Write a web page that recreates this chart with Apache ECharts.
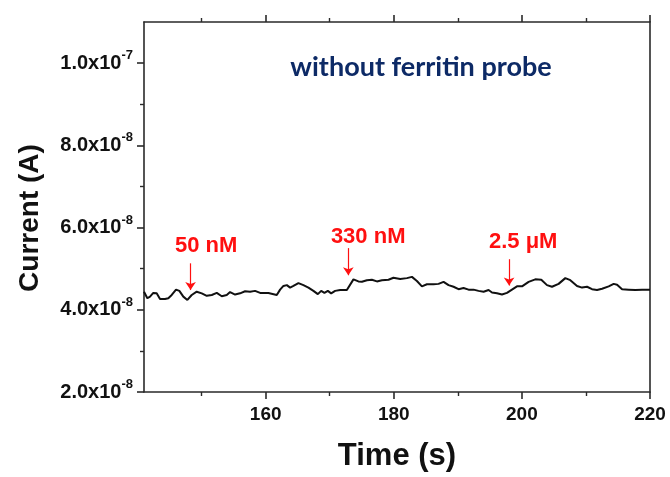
<!DOCTYPE html>
<html>
<head>
<meta charset="utf-8">
<script src="https://cdn.jsdelivr.net/npm/echarts@6/dist/echarts.min.js"></script>
<style>html,body{margin:0;padding:0;background:#fff;}#c{width:670px;height:477px;}</style>
</head>
<body>
<div id="c"></div>
<script>
// Time (s)
const time = [
  141.0,141.52,141.94,142.45,142.98,143.5,144.28,144.8,145.33,146.0,
  146.52,147.14,147.77,148.45,149.23,150.02,150.8,151.58,152.36,153.14,
  153.92,154.44,155.22,156.0,156.78,157.56,158.34,159.13,160.42,
  161.73,162.25,162.77,163.3,163.81,164.33,165.11,165.89,166.67,167.45,
  168.14,168.66,169.17,169.7,170.22,170.84,171.63,172.67,173.7,174.48,
  175.02,175.8,176.58,177.36,178.14,179.17,179.95,
  181.0,182.05,182.83,183.61,184.39,185.17,186.2,186.98,187.77,188.55,
  189.33,190.11,190.89,191.67,192.45,193.23,194.02,194.8,195.33,196.11,
  196.89,197.67,198.45,199.23,
  200.02,201.05,202.09,203.03,203.92,204.7,205.73,206.78,207.56,208.61,
  209.39,210.17,210.95,211.73,212.52,213.55,214.33,214.86,215.64,216.67,
  217.72,218.77,220.0
];
// Current in units of 1e-8 A
const currentE8 = [
  4.44,4.28,4.32,4.41,4.40,4.26,4.26,4.28,4.36,4.49,
  4.46,4.32,4.24,4.36,4.44,4.40,4.34,4.36,4.41,4.33,
  4.36,4.43,4.37,4.40,4.45,4.44,4.46,4.41,4.41,
  4.36,4.49,4.58,4.60,4.54,4.58,4.65,4.60,4.54,4.46,
  4.38,4.46,4.41,4.46,4.40,4.46,4.48,4.48,4.74,4.69,
  4.68,4.72,4.73,4.69,4.72,4.73,4.78,
  4.75,4.77,4.80,4.70,4.57,4.62,4.62,4.63,4.68,4.60,
  4.56,4.50,4.53,4.49,4.49,4.46,4.44,4.48,4.42,4.40,
  4.37,4.41,4.49,4.57,
  4.57,4.68,4.74,4.73,4.60,4.56,4.63,4.77,4.72,4.58,
  4.54,4.56,4.50,4.48,4.51,4.57,4.63,4.61,4.50,4.49,
  4.48,4.49,4.49
];
const xMajorTicks = [160, 180, 200, 220];
const xMinorTicks = [150, 170, 190, 210];
const yMajorTicks = [2e-8, 4e-8, 6e-8, 8e-8, 1e-7];
const yMinorTicks = [3e-8, 5e-8, 7e-8, 9e-8];
// Annotations: label, arrow time, arrow top (1e-8), arrow tip (1e-8), text time, text y (1e-8)
const annLabels = ['50 nM', '330 nM', '2.5 μM'];
const annTime = [148.27, 172.9, 198.0];
const annTopE8 = [5.13, 5.50, 5.23];
const annTipE8 = [4.48, 4.84, 4.59];
const annTextTime = [150.69, 176.0, 200.2];
const annTextE8 = [5.56, 5.77, 5.64];

const FONT = "'Liberation Sans', Arial, sans-serif";
const AX = '#2a2a2a';
const data = time.map((t, i) => [t, currentE8[i] * 1e-8]);

function yFmt(v) {
  const e = Math.floor(Math.log10(v) + 1e-9);
  const m = (v / Math.pow(10, e)).toFixed(1);
  return '{m|' + m + 'x10}{e|' + e + '}';
}

const baseX = {type: 'value', min: 141, max: 220, splitLine: {show: false}, gridIndex: 0};
const baseY = {type: 'value', min: 2e-8, max: 1.1e-7, splitLine: {show: false}, gridIndex: 0};

const option = {
  backgroundColor: '#fff',
  animation: false,
  title: {
    text: 'without ferritin probe',
    left: 416, top: 62, textAlign: 'center', textVerticalAlign: 'middle',
    textStyle: {color: '#0d2a66', fontFamily: 'Lato, sans-serif', fontWeight: 'bold', fontSize: 27}
  },
  grid: {left: 144, right: 20, top: 22, bottom: 80, containLabel: false},
  xAxis: [
    Object.assign({}, baseX, {
      position: 'bottom',
      axisLine: {show: true, lineStyle: {color: AX, width: 1.6}},
      axisTick: {show: true, customValues: xMajorTicks, length: 7, lineStyle: {color: AX, width: 1.6}},
      axisLabel: {show: true, customValues: xMajorTicks, margin: 13, color: '#111',
        fontFamily: FONT, fontWeight: 'bold', fontSize: 19},
      name: 'Time (s)', nameLocation: 'middle', nameGap: 49,
      nameTextStyle: {fontFamily: FONT, fontWeight: 'bold', fontSize: 31, color: '#111'}
    }),
    Object.assign({}, baseX, {
      position: 'bottom',
      axisLine: {show: false},
      axisTick: {show: true, customValues: xMinorTicks, length: 4, lineStyle: {color: AX, width: 1.4}},
      axisLabel: {show: false}
    }),
    Object.assign({}, baseX, {
      position: 'top',
      axisLine: {show: true, lineStyle: {color: AX, width: 1.6}},
      axisTick: {show: true, customValues: xMajorTicks, length: 7, lineStyle: {color: AX, width: 1.6}},
      axisLabel: {show: false}
    }),
    Object.assign({}, baseX, {
      position: 'top',
      axisLine: {show: false},
      axisTick: {show: true, customValues: xMinorTicks, length: 4, lineStyle: {color: AX, width: 1.4}},
      axisLabel: {show: false}
    })
  ],
  yAxis: [
    Object.assign({}, baseY, {
      position: 'left',
      axisLine: {show: true, lineStyle: {color: AX, width: 1.6}},
      axisTick: {show: true, customValues: yMajorTicks, length: 7, lineStyle: {color: AX, width: 1.6}},
      axisLabel: {show: true, customValues: yMajorTicks, margin: 11, formatter: yFmt,
        rich: {
          m: {fontFamily: FONT, fontWeight: 'bold', fontSize: 20, color: '#111', lineHeight: 28},
          e: {fontFamily: FONT, fontWeight: 'bold', fontSize: 13, color: '#111', lineHeight: 14, verticalAlign: 'top'}
        }},
      name: 'Current (A)', nameLocation: 'middle', nameGap: 100, nameRotate: 90,
      nameTextStyle: {fontFamily: FONT, fontWeight: 'bold', fontSize: 28, color: '#111', padding: [0, 22, 0, 0]}
    }),
    Object.assign({}, baseY, {
      position: 'left',
      axisLine: {show: false},
      axisTick: {show: true, customValues: yMinorTicks, length: 4, lineStyle: {color: AX, width: 1.4}},
      axisLabel: {show: false}
    }),
    Object.assign({}, baseY, {
      position: 'right',
      axisLine: {show: true, lineStyle: {color: AX, width: 1.6}},
      axisTick: {show: false},
      axisLabel: {show: false}
    })
  ],
  series: [{
    type: 'line',
    xAxisIndex: 0, yAxisIndex: 0,
    data: data,
    showSymbol: false,
    symbol: 'none',
    smooth: false,
    lineStyle: {color: '#111', width: 2},
    markLine: {
      silent: true,
      symbol: ['none', 'arrow'],
      symbolSize: 8,
      lineStyle: {color: '#ff1010', width: 1.2, type: 'solid'},
      itemStyle: {color: '#ff1010'},
      label: {show: false},
      data: annTime.map((t, i) => [
        {coord: [t, annTopE8[i] * 1e-8]},
        {coord: [t, annTipE8[i] * 1e-8]}
      ])
    },
    markPoint: {
      silent: true,
      symbol: 'circle', symbolSize: 0,
      label: {show: true, position: 'inside', color: '#ff1010', fontFamily: FONT, fontWeight: 'bold', fontSize: 22,
        formatter: p => p.name},
      data: annLabels.map((s, i) => ({name: s, coord: [annTextTime[i], annTextE8[i] * 1e-8]}))
    }
  }]
};
const chart = echarts.init(document.getElementById('c'), null, {renderer: 'canvas'});
chart.setOption(option);
</script>
</body>
</html>
